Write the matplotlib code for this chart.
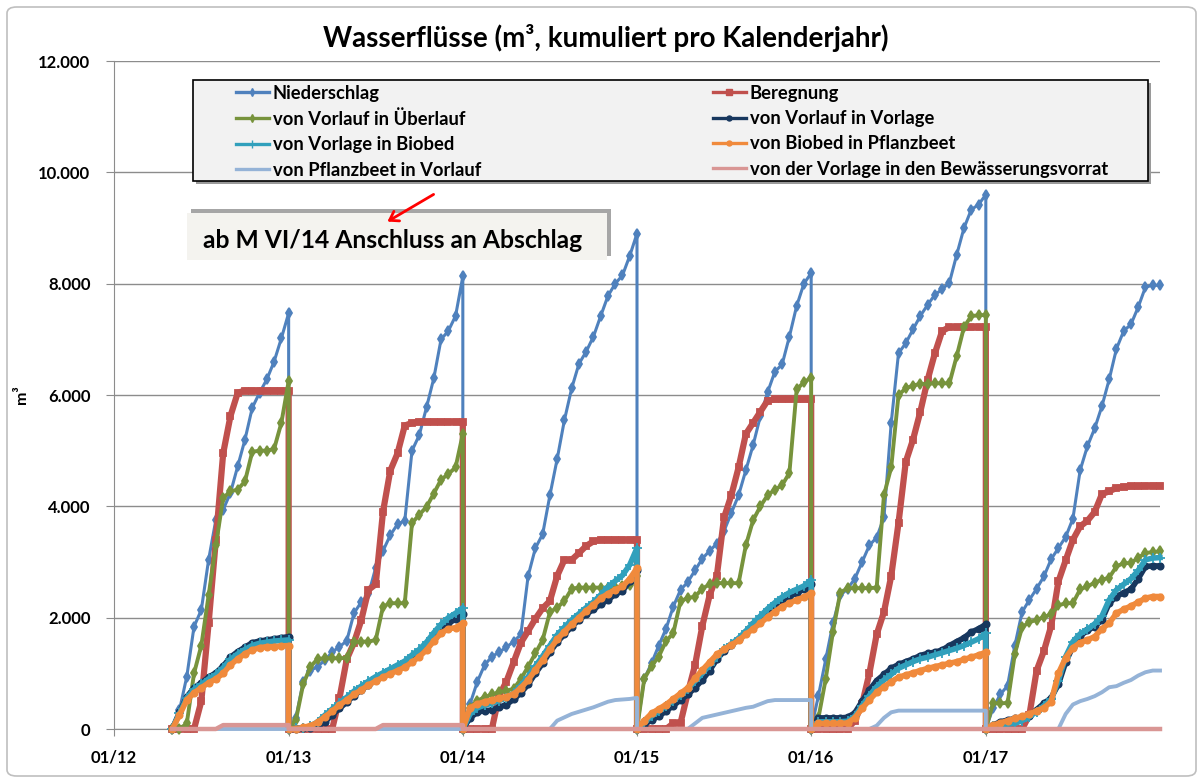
import matplotlib
matplotlib.use("Agg")
import matplotlib.pyplot as plt
import matplotlib.dates as mdates
from matplotlib.patches import Rectangle, FancyBboxPatch, FancyArrowPatch
from matplotlib.lines import Line2D
from matplotlib.ticker import FuncFormatter, FixedLocator
from datetime import datetime
import numpy as np

plt.rcParams['font.family'] = ['Lato', 'DejaVu Sans']

# cumulative values per calendar year, sampled on the 1st and 15th of every month
# (25 points per year: Jan 1 ... Dec 31); 2012 starts in April (17 points)
years = [2012, 2013, 2014, 2015, 2016, 2017]

niederschlag = {
    2012: [0, 340, 940, 1840, 2140, 3040, 3760, 3940, 4240, 4720, 5200, 5770, 6040, 6280, 6600, 7020, 7470],
    2013: [0, 200, 850, 1050, 1120, 1240, 1380, 1480, 1580, 2080, 2280, 2420, 2900, 3200, 3480, 3680, 3740, 5000, 5280, 5780, 6300, 7000, 7150, 7420, 8130],
    2014: [0, 450, 850, 1150, 1300, 1380, 1470, 1570, 1700, 2750, 3250, 3500, 4200, 4850, 5550, 6120, 6560, 6780, 7050, 7420, 7780, 8000, 8150, 8500, 8900],
    2015: [0, 900, 1180, 1500, 1800, 2200, 2500, 2640, 2850, 3060, 3200, 3330, 3560, 3880, 4200, 4650, 5100, 5620, 6050, 6420, 6550, 7050, 7600, 8000, 8190],
    2016: [0, 600, 1250, 1900, 2400, 2520, 2700, 3000, 3300, 3440, 3800, 5500, 6750, 6930, 7180, 7420, 7620, 7800, 7900, 8020, 8520, 9000, 9330, 9420, 9600],
    2017: [0, 380, 620, 780, 1500, 2100, 2320, 2520, 2740, 3050, 3250, 3450, 3780, 4650, 5080, 5400, 5800, 6280, 6830, 7150, 7270, 7580, 7940, 7970, 7970],
}
beregnung = {
    2012: [0, 0, 0, 0, 500, 1900, 3400, 4950, 5620, 6040, 6080, 6080, 6080, 6080, 6080, 6080, 6080],
    2013: [0, 0, 0, 0, 0, 0, 0, 550, 1250, 1550, 1950, 2500, 2600, 3900, 4640, 4950, 5450, 5500, 5520, 5520, 5520, 5520, 5520, 5520, 5520],
    2014: [0, 0, 0, 0, 0, 600, 850, 1200, 1550, 1760, 1980, 2170, 2300, 2750, 3040, 3040, 3160, 3290, 3370, 3400, 3400, 3400, 3400, 3400, 3400],
    2015: [0, 0, 0, 0, 0, 100, 110, 650, 1150, 1850, 2400, 2750, 3800, 4200, 4700, 5300, 5500, 5700, 5900, 5920, 5920, 5920, 5920, 5920, 5920],
    2016: [0, 0, 0, 0, 0, 0, 150, 450, 1000, 1700, 2100, 2750, 3700, 4800, 5200, 5700, 6270, 6750, 7150, 7220, 7220, 7220, 7220, 7220, 7220],
    2017: [0, 0, 0, 0, 0, 0, 250, 1050, 1400, 1850, 2650, 3030, 3400, 3640, 3740, 3900, 4220, 4270, 4330, 4350, 4360, 4360, 4370, 4370, 4370],
}
ueberlauf = {
    2012: [0, 0, 100, 1000, 1500, 2400, 3300, 4150, 4270, 4300, 4450, 4980, 5000, 5000, 5030, 5500, 6250],
    2013: [0, 160, 800, 1120, 1260, 1270, 1270, 1270, 1280, 1560, 1570, 1570, 1600, 2200, 2260, 2260, 2260, 3700, 3850, 3990, 4230, 4480, 4580, 4700, 5300],
    2014: [0, 380, 510, 570, 620, 660, 690, 720, 900, 1120, 1360, 1600, 2100, 2180, 2300, 2520, 2540, 2540, 2540, 2540, 2540, 2550, 2560, 2580, 2750],
    2015: [0, 900, 1130, 1300, 1580, 1720, 2300, 2350, 2380, 2520, 2600, 2620, 2620, 2620, 2620, 3300, 3750, 4000, 4200, 4300, 4380, 4600, 6100, 6230, 6310],
    2016: [0, 200, 900, 1750, 2450, 2530, 2530, 2530, 2530, 2540, 4200, 4700, 6000, 6120, 6170, 6200, 6200, 6210, 6210, 6210, 6700, 7220, 7420, 7430, 7440],
    2017: [0, 460, 460, 470, 1350, 1830, 1920, 1960, 2010, 2060, 2220, 2260, 2260, 2510, 2560, 2630, 2680, 2720, 2920, 2980, 2980, 3080, 3160, 3180, 3190],
}
vorlage = {
    2012: [0, 300, 580, 740, 830, 930, 1010, 1130, 1290, 1390, 1470, 1550, 1580, 1600, 1620, 1640, 1660],
    2013: [0, 0, 10, 20, 50, 130, 250, 370, 480, 600, 700, 790, 880, 950, 1020, 1090, 1160, 1260, 1360, 1490, 1640, 1790, 1900, 1970, 2060],
    2014: [0, 200, 300, 330, 340, 390, 440, 530, 650, 800, 1000, 1180, 1380, 1560, 1700, 1840, 1960, 2060, 2150, 2240, 2320, 2420, 2480, 2650, 2850],
    2015: [0, 80, 160, 230, 320, 420, 520, 620, 740, 880, 1050, 1250, 1400, 1510, 1610, 1740, 1880, 2000, 2120, 2220, 2320, 2380, 2440, 2510, 2600],
    2016: [0, 200, 200, 200, 200, 210, 290, 500, 700, 870, 980, 1090, 1160, 1210, 1260, 1320, 1360, 1380, 1420, 1500, 1570, 1640, 1740, 1800, 1880],
    2017: [0, 70, 130, 160, 190, 210, 240, 350, 460, 560, 800, 1200, 1480, 1670, 1770, 1840, 1960, 2260, 2380, 2450, 2510, 2700, 2920, 2930, 2930],
}
biobed = {
    2012: [0, 280, 560, 710, 800, 900, 980, 1100, 1250, 1350, 1430, 1500, 1540, 1560, 1580, 1590, 1600],
    2013: [0, 10, 20, 50, 130, 250, 360, 470, 570, 680, 770, 860, 940, 1010, 1080, 1150, 1220, 1330, 1430, 1560, 1730, 1880, 2000, 2080, 2180],
    2014: [0, 270, 380, 430, 460, 510, 560, 640, 780, 940, 1130, 1310, 1500, 1690, 1830, 1960, 2070, 2180, 2280, 2410, 2550, 2660, 2760, 2950, 3250],
    2015: [0, 120, 230, 320, 420, 510, 610, 720, 860, 1000, 1150, 1300, 1430, 1530, 1630, 1760, 1900, 2030, 2160, 2270, 2370, 2450, 2510, 2570, 2680],
    2016: [0, 130, 130, 130, 130, 140, 230, 420, 600, 760, 880, 980, 1090, 1150, 1210, 1260, 1290, 1330, 1370, 1410, 1450, 1500, 1560, 1620, 1720],
    2017: [0, 50, 80, 90, 100, 150, 220, 310, 420, 530, 870, 1300, 1570, 1710, 1790, 1890, 2030, 2320, 2500, 2600, 2700, 2850, 3040, 3070, 3080],
}
pflanzbeet = {
    2012: [0, 250, 520, 650, 740, 830, 900, 1000, 1150, 1260, 1350, 1420, 1460, 1480, 1480, 1490, 1500],
    2013: [0, 0, 30, 60, 120, 220, 320, 430, 520, 620, 700, 790, 860, 930, 990, 1050, 1110, 1200, 1300, 1420, 1580, 1720, 1800, 1820, 1900],
    2014: [0, 380, 450, 490, 520, 550, 580, 630, 740, 880, 1060, 1240, 1430, 1610, 1750, 1880, 2000, 2120, 2230, 2350, 2430, 2500, 2560, 2700, 2890],
    2015: [0, 150, 280, 360, 440, 540, 640, 740, 910, 1060, 1200, 1340, 1430, 1510, 1590, 1700, 1800, 1900, 2010, 2110, 2200, 2260, 2320, 2370, 2440],
    2016: [0, 100, 100, 100, 100, 110, 200, 370, 520, 660, 760, 850, 930, 970, 1010, 1050, 1090, 1120, 1150, 1180, 1210, 1250, 1290, 1330, 1380],
    2017: [0, 70, 110, 150, 190, 230, 270, 330, 380, 490, 1000, 1280, 1460, 1550, 1600, 1660, 1800, 1900, 2080, 2150, 2210, 2280, 2350, 2380, 2380],
}
rueckfluss = {
    2012: [0] * 17,
    2013: [0] * 25,
    2014: [0] * 13 + [150, 210, 270, 310, 350, 390, 440, 490, 520, 530, 540, 560],
    2015: [0] * 8 + [100, 200, 230, 260, 290, 320, 350, 380, 400, 450, 500] + [520] * 6,
    2016: [0] * 9 + [60, 200, 300] + [330] * 13,
    2017: [0] * 11 + [270, 440, 500, 540, 590, 660, 750, 770, 830, 880, 960, 1020, 1050, 1050],
}
vorrat = {
    2012: [0] * 7 + [70] * 10,
    2013: [0] * 13 + [70] * 12,
    2014: [0] * 25,
    2015: [0] * 25,
    2016: [0] * 25,
    2017: [0] * 25,
}

W, H = 1202, 780
def fx(px):
    return px / W
def fy(py):
    return 1 - py / H

def series_xy(data):
    xs, ys = [], []
    for y in years:
        base = mdates.date2num(datetime(y, 1, 1))
        ylen = mdates.date2num(datetime(y + 1, 1, 1)) - base
        pos = base + np.arange(25) * 0.5 / 12 * ylen
        vals = data[y]
        xs.extend(pos[25 - len(vals):])
        ys.extend(vals)
    return np.array(xs), np.array(ys)

series = [
    ("Niederschlag", niederschlag, "#4f81bd", "d", 5, 2.2),
    ("Beregnung", beregnung, "#c0504d", "s", 5, 4.5),
    ("von Vorlauf in Überlauf", ueberlauf, "#77933c", "d", 5, 2.8),
    ("von Vorlauf in Vorlage", vorlage, "#17375e", "o", 4.5, 4.0),
    ("von Vorlage in Biobed", biobed, "#31a0bc", "+", 6.5, 4.0),
    ("von Biobed in Pflanzbeet", pflanzbeet, "#f08a3c", "o", 4.5, 4.0),
    ("von Pflanzbeet in Vorlauf", rueckfluss, "#95b3d7", "None", 0, 2.8),
    ("von der Vorlage in den Bewässerungsvorrat", vorrat, "#d99694", "None", 0, 3.2),
]

fig = plt.figure(figsize=(W / 100, H / 100), dpi=100)
ax = fig.add_axes([fx(114), fy(729), fx(1160) - fx(114), fy(61) - fy(729)])

handles = []
for i, (name, data, col, mk, ms, lw) in enumerate(series):
    x, y = series_xy(data)
    ax.plot(x, y, color=col, lw=lw, marker=mk, ms=ms, mew=1.3, mfc=col, mec=col,
            zorder=3 + i, clip_on=False)
    handles.append(Line2D([], [], color=col, lw=2.4, marker=mk, ms=ms * 0.8, mfc=col, mec=col))

ax.set_xlim(mdates.date2num(datetime(2012, 1, 1)), mdates.date2num(datetime(2018, 1, 1)))
ax.set_ylim(0, 12000)
ax.xaxis.set_major_locator(FixedLocator([mdates.date2num(datetime(y, 1, 1)) for y in years]))
ax.xaxis.set_major_formatter(mdates.DateFormatter("%m/%y"))
ax.yaxis.set_major_locator(FixedLocator(np.arange(0, 12001, 2000)))
ax.yaxis.set_major_formatter(FuncFormatter(lambda v, p: f"{int(v):,}".replace(",", ".")))

ax.grid(axis='y', color='#8c8c8c', lw=1)
ax.set_axisbelow(True)
for s in ['top', 'right']:
    ax.spines[s].set_visible(False)
for s in ['left', 'bottom']:
    ax.spines[s].set_color('#8c8c8c')
ax.tick_params(axis='y', length=6, color='#8c8c8c', pad=11, labelsize=12)
ax.tick_params(axis='x', length=5, color='#8c8c8c', pad=10, labelsize=12)
for lab in ax.get_xticklabels() + ax.get_yticklabels():
    lab.set_fontweight('bold')

# title and y label
fig.text(fx(606), fy(38), "Wasserflüsse (m³, kumuliert pro Kalenderjahr)",
         ha='center', va='center', fontsize=20, fontweight='bold')
fig.text(fx(22), fy(395), "m³", rotation=90, ha='center', va='center',
         fontsize=11.5, fontweight='bold')

# outer chart border
fig.patches.append(FancyBboxPatch((fx(7), fy(776)), fx(1196) - fx(7), fy(7) - fy(776),
                                  boxstyle="round,pad=0,rounding_size=0.008",
                                  transform=fig.transFigure, fc='none', ec='#bfbfbf', lw=1.2))

# legend box with shadow
fig.patches.append(Rectangle((fx(196), fy(184)), fx(1151) - fx(196), fy(83) - fy(184),
                             transform=fig.transFigure, fc='#9a9a9a', ec='none', zorder=9))
fig.patches.append(Rectangle((fx(193), fy(181)), fx(1148) - fx(193), fy(80) - fy(181),
                             transform=fig.transFigure, fc='#f2f2f2', ec='black', lw=1.2, zorder=10))

labels = [s[0] for s in series]
for col_idx, xpos in enumerate([230, 707]):
    idx = [col_idx, col_idx + 2, col_idx + 4, col_idx + 6]
    leg = fig.legend([handles[i] for i in idx], [labels[i] for i in idx],
                     loc='upper left', bbox_to_anchor=(fx(xpos), fy(79)),
                     frameon=False, prop={'weight': 'bold', 'size': 13.2},
                     handlelength=1.8, handletextpad=0.22, labelspacing=0.46,
                     borderpad=0.3, borderaxespad=0)
    leg.set_zorder(11)

# annotation box with shadow
fig.patches.append(Rectangle((fx(191), fy(256)), fx(611) - fx(191), fy(209) - fy(256),
                             transform=fig.transFigure, fc='#a6a6a6', ec='none', zorder=9))
fig.patches.append(Rectangle((fx(187), fy(260)), fx(607) - fx(187), fy(213) - fy(260),
                             transform=fig.transFigure, fc='#f4f3ef', ec='none', zorder=10))
fig.text(fx(203), fy(241), "ab M VI/14 Anschluss an Abschlag", ha='left', va='center',
         fontsize=17.7, fontweight='bold', zorder=11)
fig.patches.append(FancyArrowPatch(
    (fx(436), fy(193)), (fx(385), fy(223)), transform=fig.transFigure,
    arrowstyle='->,head_length=6,head_width=4', color='#ff0000', lw=2, zorder=12))

fig.savefig("out.png", dpi=100)
